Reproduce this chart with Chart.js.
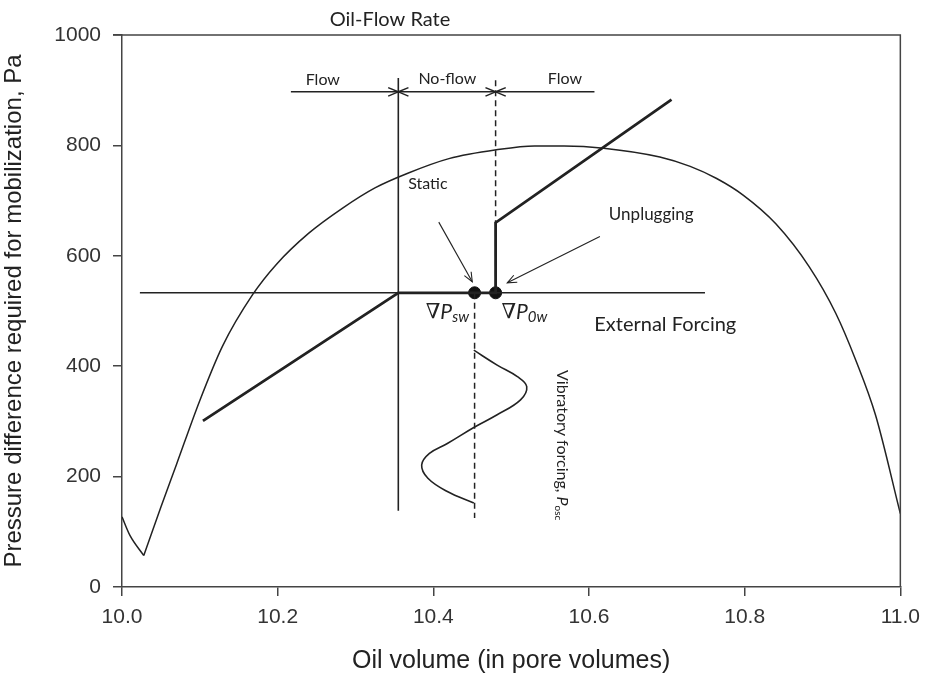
<!DOCTYPE html>
<html>
<head>
<meta charset="utf-8">
<script src="https://cdn.jsdelivr.net/npm/chart.js@4.4.0/dist/chart.umd.min.js"></script>
<style>
  html, body { margin:0; padding:0; background:#fff; }
  #wrap { width:929px; height:680px; }
</style>
</head>
<body>
<div id="wrap"><canvas id="chart-0"></canvas></div>
<script>
// mobilization pressure curve (left cusp, then main dome)
var cuspX  = [10.0, 10.010, 10.028];
var cuspY  = [127, 94, 57];
var domeX  = [10.028, 10.050, 10.070, 10.100, 10.129, 10.168, 10.198, 10.240, 10.283, 10.325, 10.368, 10.420, 10.481, 10.530, 10.568, 10.619, 10.691, 10.730, 10.764, 10.798, 10.840, 10.883, 10.917, 10.943, 10.968, 11.0];
var domeY  = [57, 145, 222, 338, 436, 530, 584, 641, 686, 723, 750, 776, 792, 799, 799, 795, 779, 762, 740, 710, 658, 580, 496, 410, 312, 133];

// external forcing level
var forcingX = [10.023, 10.749];
var forcingY = [533, 533];

// oil-flow rate path (thick)
var rateX = [10.104, 10.355, 10.48, 10.48, 10.706];
var rateY = [301, 533, 533, 660, 883];

// boundaries
var staticLineX = [10.355, 10.355];
var staticLineY = [922, 138];
var unplugDashX = [10.48, 10.48];
var unplugDashY = [918, 533];
var oscDashX = [10.453, 10.453];
var oscDashY = [533, 125];

// threshold points
var pointX = [10.453, 10.48];
var pointY = [533, 533];

// vibratory forcing wave
var waveX = [10.452, 10.482, 10.508, 10.520, 10.512, 10.482, 10.452, 10.418, 10.395, 10.385, 10.393, 10.418, 10.452];
var waveY = [429, 402, 381, 363, 339, 312, 289, 260, 242, 221, 197, 173, 152];

// arrows
var flowLeftX = [10.217, 10.355], flowLeftY = [897, 897];
var noFlowX = [10.355, 10.48], noFlowY = [897, 897];
var flowRightX = [10.607, 10.48], flowRightY = [897, 897];
var staticArrowX = [10.407, 10.450], staticArrowY = [661, 553];
var unplugArrowX = [10.614, 10.495], unplugArrowY = [635, 551];

// text notes
var noteText = ['Flow', 'No-flow', 'Flow', 'Static', 'Unplugging', 'External Forcing'];
var noteX = [10.258, 10.418, 10.569, 10.393, 10.680, 10.698];
var noteY = [918, 920, 920, 730, 674, 475];

var xTicks = [10.0, 10.2, 10.4, 10.6, 10.8, 11.0];
var yTicks = [0, 200, 400, 600, 800, 1000];

function pts(xs, ys) {
    return xs.map(function (x, i) { return {x: x, y: ys[i]}; });
}

function line(xs, ys, width, extra) {
    var d = {data: pts(xs, ys), showLine: true, borderColor: '#222', borderWidth: width,
             pointRadius: 0, pointHoverRadius: 0, fill: false, tension: 0};
    for (var k in extra) d[k] = extra[k];
    return d;
}

var INK = '#222';
var NOTE_FONT = 'Lato, "Open Sans", sans-serif';
var AXIS_FONT = '"Liberation Sans", Arial, sans-serif';

function drawParts(ctx, parts, cx, cy) {
    var total = 0;
    parts.forEach(function (p) { ctx.font = p.font; p.w = ctx.measureText(p.t).width; total += p.w; });
    var x = cx - total / 2;
    ctx.textAlign = 'left';
    ctx.textBaseline = 'middle';
    parts.forEach(function (p) {
        ctx.font = p.font;
        ctx.fillText(p.t, x, cy + (p.dy || 0));
        x += p.w;
    });
}

function head(ctx, tip, from, len, ang) {
    var a = Math.atan2(tip.y - from.y, tip.x - from.x);
    ctx.beginPath();
    ctx.moveTo(tip.x - len * Math.cos(a - ang), tip.y - len * Math.sin(a - ang));
    ctx.lineTo(tip.x, tip.y);
    ctx.lineTo(tip.x - len * Math.cos(a + ang), tip.y - len * Math.sin(a + ang));
    ctx.stroke();
}

var decor = {
    id: 'decor',
    afterDatasetsDraw: function (chart) {
        var ctx = chart.ctx, a = chart.chartArea;
        var sx = chart.scales.x, sy = chart.scales.y;
        ctx.save();

        // top and right frame
        ctx.strokeStyle = '#444';
        ctx.lineWidth = 1.5;
        ctx.beginPath();
        ctx.moveTo(a.left - 9, a.top);
        ctx.lineTo(a.right, a.top);
        ctx.lineTo(a.right, a.bottom);
        ctx.stroke();

        // arrow heads
        ctx.strokeStyle = INK;
        chart.data.datasets.forEach(function (ds, i) {
            if (!ds.heads) return;
            var el = chart.getDatasetMeta(i).data;
            var p0 = {x: el[0].x, y: el[0].y}, p1 = {x: el[1].x, y: el[1].y};
            ctx.lineWidth = ds.borderWidth;
            if (ds.heads.indexOf('end') >= 0) head(ctx, p1, p0, ds.headLen, 0.4);
            if (ds.heads.indexOf('start') >= 0) head(ctx, p0, p1, ds.headLen, 0.4);
        });

        // notes
        ctx.fillStyle = '#222';
        var sizes = [16, 16, 16, 16, 17, 20];
        noteText.forEach(function (t, i) {
            drawParts(ctx, [{t: t, font: sizes[i] + 'px ' + NOTE_FONT}],
                      sx.getPixelForValue(noteX[i]), sy.getPixelForValue(noteY[i]));
        });

        // gradient labels
        var nab = '21px "DejaVu Serif", "Liberation Serif", serif';
        var pf = 'italic 21px ' + NOTE_FONT;
        var sf = 'italic 15px ' + NOTE_FONT;
        drawParts(ctx, [{t: '\u2207', font: nab}, {t: 'P', font: pf}, {t: 'sw', font: sf, dy: 5}],
                  sx.getPixelForValue(10.418), sy.getPixelForValue(498));
        drawParts(ctx, [{t: '\u2207', font: nab}, {t: 'P', font: pf}, {t: '0w', font: sf, dy: 5}],
                  sx.getPixelForValue(10.517), sy.getPixelForValue(498));

        // vibratory forcing label, rotated
        ctx.save();
        ctx.translate(sx.getPixelForValue(10.565), sy.getPixelForValue(257));
        ctx.rotate(Math.PI / 2);
        drawParts(ctx, [{t: 'Vibratory forcing, ', font: '16px ' + NOTE_FONT},
                        {t: 'P', font: 'italic 16px ' + NOTE_FONT},
                        {t: 'osc', font: '10px ' + NOTE_FONT, dy: 4}], 0, 0);
        ctx.restore();

        // top label
        drawParts(ctx, [{t: 'Oil-Flow Rate', font: '20px ' + NOTE_FONT}], 390, 20);
        ctx.restore();
    }
};

new Chart(document.getElementById('chart-0'), {
    type: 'scatter',
    data: {
        datasets: [
            line(cuspX, cuspY, 1.5, {cubicInterpolationMode: 'monotone'}),
            line(domeX, domeY, 1.5, {cubicInterpolationMode: 'monotone'}),
            line(forcingX, forcingY, 1.6),
            line(staticLineX, staticLineY, 1.6),
            line(unplugDashX, unplugDashY, 1.5, {borderDash: [6, 4]}),
            line(oscDashX, oscDashY, 1.5, {borderDash: [6, 4]}),
            line(rateX, rateY, 2.8),
            line(waveX, waveY, 1.6, {tension: 0.4}),
            {data: pts(pointX, pointY), showLine: false, pointRadius: 6, pointHoverRadius: 6,
             pointBackgroundColor: '#111', pointBorderColor: '#111'},
            line(flowLeftX, flowLeftY, 1.5, {heads: ['end'], headLen: 11}),
            line(noFlowX, noFlowY, 1.5, {heads: ['start', 'end'], headLen: 11}),
            line(flowRightX, flowRightY, 1.5, {heads: ['end'], headLen: 11}),
            line(staticArrowX, staticArrowY, 1.1, {heads: ['end'], headLen: 10}),
            line(unplugArrowX, unplugArrowY, 1.1, {heads: ['end'], headLen: 10})
        ]
    },
    options: {
        responsive: true,
        maintainAspectRatio: false,
        animation: false,
        events: [],
        layout: {padding: {left: 0, right: 23, top: 35, bottom: 0}},
        plugins: {legend: {display: false}, tooltip: {enabled: false}},
        scales: {
            x: {
                type: 'linear', min: 10, max: 11,
                afterFit: function (s) { s.height = 93; },
                afterBuildTicks: function (s) { s.ticks = xTicks.map(function (v) { return {value: v}; }); },
                border: {display: true, color: '#444', width: 1.5},
                grid: {display: true, drawOnChartArea: false, drawTicks: true, tickLength: 9, color: '#444', lineWidth: 1.5},
                ticks: {color: '#333', font: {family: AXIS_FONT, size: 21}, padding: 9,
                        maxRotation: 0, callback: function (v) { return v.toFixed(1); }},
                title: {display: true, text: 'Oil volume (in pore volumes)', color: '#222',
                        font: {family: AXIS_FONT, size: 25}, padding: {top: 16}}
            },
            y: {
                type: 'linear', min: 0, max: 1000,
                afterFit: function (s) { s.width = 122; },
                afterBuildTicks: function (s) { s.ticks = yTicks.map(function (v) { return {value: v}; }); },
                border: {display: true, color: '#444', width: 1.5},
                grid: {display: true, drawOnChartArea: false, drawTicks: true, tickLength: 9, color: '#444', lineWidth: 1.5},
                ticks: {color: '#333', font: {family: AXIS_FONT, size: 21}, padding: 12,
                        callback: function (v) { return String(v); }},
                title: {display: true, text: 'Pressure difference required for mobilization, Pa', color: '#222',
                        font: {family: AXIS_FONT, size: 24}, padding: {top: 0, bottom: 4}}
            }
        }
    },
    plugins: [decor]
});
</script>
</body>
</html>
